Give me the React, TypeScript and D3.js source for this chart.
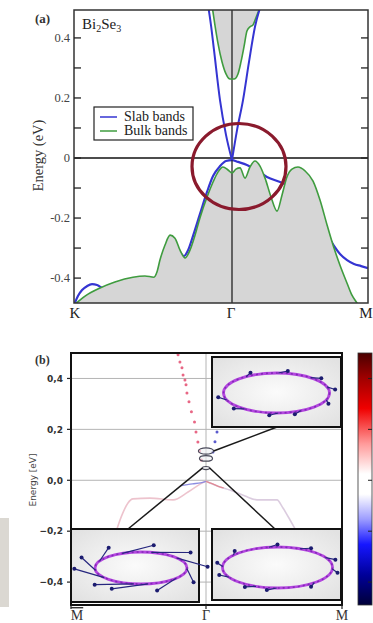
import React from "react";
import * as d3 from "d3";

type Pt = [number, number];

// ---------- (a) Bi2Se3 bands along K (-1) – Γ (0) – M (+1), energy in eV ----------
const bulkValence: Pt[] = [
  [-1.0, -0.49], [-0.93, -0.46], [-0.835, -0.433], [-0.741, -0.413], [-0.627, -0.397],
  [-0.551, -0.393], [-0.494, -0.397], [-0.475, -0.38], [-0.456, -0.34], [-0.424, -0.29],
  [-0.392, -0.257], [-0.361, -0.267], [-0.329, -0.307], [-0.297, -0.333], [-0.266, -0.307],
  [-0.234, -0.257], [-0.203, -0.2], [-0.158, -0.13], [-0.12, -0.08], [-0.089, -0.047],
  [-0.057, -0.03], [-0.025, -0.04], [0, -0.05], [0.029, -0.037], [0.059, -0.033],
  [0.096, -0.067], [0.132, -0.03], [0.169, -0.01], [0.206, -0.027], [0.243, -0.067],
  [0.287, -0.13], [0.331, -0.177], [0.368, -0.123], [0.404, -0.063], [0.441, -0.037],
  [0.485, -0.03], [0.537, -0.043], [0.596, -0.077], [0.647, -0.14], [0.699, -0.223],
  [0.75, -0.3], [0.794, -0.357], [0.846, -0.417], [0.882, -0.457], [0.919, -0.483],
  [0.949, -0.507],
];
const bulkConduction: Pt[] = [
  [-0.127, 0.51], [-0.108, 0.443], [-0.089, 0.383], [-0.063, 0.32], [-0.038, 0.28],
  [-0.013, 0.263], [0.015, 0.263], [0.044, 0.28], [0.066, 0.32], [0.088, 0.37],
  [0.11, 0.423], [0.132, 0.437], [0.154, 0.443], [0.176, 0.467], [0.213, 0.51],
];
const slabConeLeft: Pt[] = [
  [-0.152, 0.51], [-0.133, 0.443], [-0.114, 0.36], [-0.076, 0.193], [-0.038, 0.077], [0, -0.007],
];
const slabConeRight: Pt[] = [
  [0, -0.007], [0.037, 0.093], [0.081, 0.193], [0.125, 0.32], [0.169, 0.437], [0.213, 0.51],
];
const slabValence: Pt[] = [
  [-0.361, -0.283], [-0.329, -0.313], [-0.304, -0.327], [-0.278, -0.307], [-0.247, -0.26],
  [-0.203, -0.187], [-0.158, -0.113], [-0.12, -0.06], [-0.076, -0.027], [-0.038, -0.01],
  [0, -0.007], [0.044, -0.013], [0.11, -0.023], [0.169, -0.037], [0.257, -0.063],
  [0.353, -0.08], [0.441, -0.097], [0.522, -0.123], [0.596, -0.173], [0.647, -0.213],
  [0.699, -0.253], [0.75, -0.293], [0.794, -0.32], [0.846, -0.34], [0.897, -0.353],
  [0.949, -0.36], [1.0, -0.367],
];
const slabNearK: Pt[] = [
  [-1, -0.49], [-0.975, -0.46], [-0.949, -0.44], [-0.918, -0.427], [-0.886, -0.42],
  [-0.854, -0.423], [-0.823, -0.433], [-0.785, -0.447],
];
const pathPoints = [-1, 0, 1];
const pathLabelsA = ["K", "Γ", "M"];
const minorTicksA = [-0.4, -0.3, -0.2, -0.1, 0, 0.1, 0.2, 0.3, 0.4];
const labelTicksA = [0.4, 0.2, 0, -0.2, -0.4];
const labelTextA = ["0.4", "0.2", "0", "-0.2", "-0.4"];
const legendLabels = ["Slab bands", "Bulk bands"];

// ---------- (b) spin-resolved surface spectrum along M̄ – Γ – M ----------
const spinRedBranch: Pt[] = [
  [-0.207, 0.493], [-0.193, 0.465], [-0.178, 0.442], [-0.17, 0.414], [-0.156, 0.394],
  [-0.148, 0.375], [-0.141, 0.343], [-0.126, 0.308], [-0.108, 0.269], [-0.085, 0.229],
  [-0.074, 0.19], [-0.06, 0.15], [-0.048, 0.115], [-0.034, 0.08],
];
const spinBlueBranch: Pt[] = [[0.081, 0.19], [0.066, 0.151], [0.051, 0.111]];
const bulkEdgeLeft: Pt[] = [
  [-0.659, -0.19], [-0.622, -0.136], [-0.578, -0.089], [-0.541, -0.073], [-0.415, -0.07],
  [-0.244, -0.077], [-0.133, -0.046], [-0.044, -0.015], [0, -0.003],
];
const bulkEdgeRight: Pt[] = [
  [0, -0.003], [0.029, -0.011], [0.103, -0.026], [0.176, -0.038], [0.287, -0.062],
  [0.375, -0.077], [0.522, -0.077], [0.566, -0.109], [0.618, -0.156], [0.654, -0.19],
];
const edgeSpinBlue: Pt[] = [[-0.19, -0.022], [-0.1, -0.014], [-0.04, -0.01], [0, -0.004]];
const edgeSpinRed: Pt[] = [[0, -0.004], [0.04, -0.012], [0.09, -0.024], [0.13, -0.03]];
const contourEnergies = [0.115, 0.086, 0.048];
const contourRadii = [0.056, 0.048, 0.027];
const pathLabelsB = ["M", "Γ", "M"];
const ticksB = [0.4, 0.2, 0, -0.2, -0.4];
const labelTextB = ["0,4", "0,2", "0,0", "−0,2", "−0,4"];
// spin arrow tip angles (deg) around the three constant-energy contours
const spinTipsTop = [169, 136, 244, 97, 281, 72, 319, 29, 351];
const spinTipsLowLeft = [178, 207, 241, 281, 318, 357, 38, 76, 116, 134];
const spinTipsLowRight = [192, 161, 226, 122, 100, 270, 303, 57, 340, 13];

const SERIF = "'Liberation Serif', 'Times New Roman', serif";
const SANS = "'DejaVu Sans', Arial, sans-serif";
const BLUE = "#3535d2";
const GREEN = "#3f9c3f";

type Inset = { x: number; y: number; w: number; h: number; cx: number; cy: number; rx: number; ry: number };

function SpinInset({ box, tips, tipScale, spread, id }: { box: Inset; tips: number[]; tipScale: number; spread: number; id: string }) {
  const rad = (a: number) => (a * Math.PI) / 180;
  return (
    <g>
      <rect x={box.x} y={box.y} width={box.w} height={box.h} fill="url(#insetBg)" stroke="#111" strokeWidth={2} />
      <ellipse cx={box.cx} cy={box.cy} rx={box.rx} ry={box.ry} fill="none" stroke="#b347df" strokeWidth={2.8} />
      <ellipse cx={box.cx} cy={box.cy} rx={box.rx} ry={box.ry} fill="none" stroke="#8428b8" strokeWidth={1.6} strokeDasharray="2 3" />
      {tips.map((a, i) => {
        const bx = box.cx + box.rx * Math.cos(rad(a - spread));
        const by = box.cy + box.ry * Math.sin(rad(a - spread));
        const tx = box.cx + box.rx * tipScale * Math.cos(rad(a));
        const ty = box.cy + box.ry * tipScale * Math.sin(rad(a));
        return (
          <g key={id + i}>
            <line x1={bx} y1={by} x2={tx} y2={ty} stroke="#26267e" strokeWidth={1.2} />
            <circle cx={tx} cy={ty} r={2} fill="#1c1c70" />
          </g>
        );
      })}
    </g>
  );
}

export default function App() {
  // panel (a) scales
  const xA = d3.scaleLinear().domain([-1, 0, 1]).range([74, 232, 368]);
  const yA = d3.scaleLinear().domain([-0.483, 0.493]).range([303, 10]);
  const lineA = d3.line<Pt>().x((d) => xA(d[0])).y((d) => yA(d[1])).curve(d3.curveMonotoneX);
  const vbArea = d3.area<Pt>().x((d) => xA(d[0])).y0(yA(-0.483)).y1((d) => yA(d[1])).curve(d3.curveMonotoneX);
  const cbArea = d3.area<Pt>().x((d) => xA(d[0])).y0(yA(0.493)).y1((d) => yA(d[1])).curve(d3.curveMonotoneX);

  // panel (b) scales
  const xB = d3.scaleLinear().domain([-1, 0, 1]).range([71, 206, 342]);
  const yB = d3.scaleLinear().domain([-0.49, 0.5]).range([605, 353]);
  const lineB = d3.line<Pt>().x((d) => xB(d[0])).y((d) => yB(d[1])).curve(d3.curveMonotoneX);

  const contours = contourEnergies.map((e, i) => {
    const rx = xB(contourRadii[i]) - xB(0);
    return { cx: xB(0), cy: yB(e), rx, ry: rx * 0.42 };
  });
  const cTop = contours[0];
  const cLow = contours[2];

  const insetTop: Inset = { x: 212, y: 357, w: 129, h: 70, cx: 276.5, cy: 393, rx: 53, ry: 20 };
  const insetLowLeft: Inset = { x: 71, y: 529, w: 128, h: 73, cx: 141, cy: 568, rx: 46, ry: 16 };
  const insetLowRight: Inset = { x: 212, y: 529, w: 129, h: 71, cx: 277.5, cy: 567.5, rx: 55, ry: 20.5 };

  return (
    <svg width={373} height={623} style={{ position: "absolute", left: 0, top: 0, background: "#fff" }}>
      <defs>
        <clipPath id="clipA">
          <rect x={74} y={10} width={294} height={293} />
        </clipPath>
        <clipPath id="clipB">
          <rect x={71} y={353} width={271} height={252} />
        </clipPath>
        <radialGradient id="insetBg" cx="50%" cy="50%" r="65%">
          <stop offset="0%" stopColor="#fbfbfb" />
          <stop offset="100%" stopColor="#e2e2e2" />
        </radialGradient>
        <linearGradient id="cbar" x1="0" y1="0" x2="0" y2="1">
          <stop offset="0%" stopColor="#4a0000" />
          <stop offset="10%" stopColor="#a00000" />
          <stop offset="22%" stopColor="#f00000" />
          <stop offset="36%" stopColor="#ff9a9a" />
          <stop offset="48%" stopColor="#ffffff" />
          <stop offset="56%" stopColor="#ffffff" />
          <stop offset="66%" stopColor="#9c9cff" />
          <stop offset="76%" stopColor="#1616ff" />
          <stop offset="88%" stopColor="#00009a" />
          <stop offset="100%" stopColor="#000038" />
        </linearGradient>
      </defs>

      {/* ================= panel (a) ================= */}
      <g clipPath="url(#clipA)">
        <path d={lineA(slabNearK) ?? ""} fill="none" stroke={BLUE} strokeWidth={2.2} />
        <path d={lineA(slabValence) ?? ""} fill="none" stroke={BLUE} strokeWidth={2.2} />
        <path d={vbArea(bulkValence) ?? ""} fill="#d6d6d6" />
        <path d={cbArea(bulkConduction) ?? ""} fill="#d6d6d6" />
        <line x1={74} x2={368} y1={yA(0)} y2={yA(0)} stroke="#111" strokeWidth={1.3} />
        <line x1={xA(0)} x2={xA(0)} y1={10} y2={303} stroke="#222" strokeWidth={1.3} />
        <path d={lineA(bulkValence) ?? ""} fill="none" stroke={GREEN} strokeWidth={1.6} />
        <path d={lineA(bulkConduction) ?? ""} fill="none" stroke={GREEN} strokeWidth={1.6} />
        <path d={lineA(slabConeLeft) ?? ""} fill="none" stroke={BLUE} strokeWidth={2} />
        <path d={lineA(slabConeRight) ?? ""} fill="none" stroke={BLUE} strokeWidth={2} />
      </g>
      <rect x={74} y={10} width={294} height={293} fill="none" stroke="#333" strokeWidth={1.5} />
      {minorTicksA.map((t) => (
        <g key={"ta" + t}>
          <line x1={74} x2={81} y1={yA(t)} y2={yA(t)} stroke="#222" strokeWidth={1.3} />
          <line x1={361} x2={368} y1={yA(t)} y2={yA(t)} stroke="#222" strokeWidth={1.3} />
        </g>
      ))}
      {labelTicksA.map((t, i) => (
        <text key={"la" + t} x={70} y={yA(t) + 4} textAnchor="end" fontFamily={SERIF} fontSize={12.5} fill="#444">
          {labelTextA[i]}
        </text>
      ))}
      {pathPoints.map((k, i) => (
        <text
          key={"pa" + k}
          x={i === 2 ? 372.5 : xA(k) + (i === 0 ? 1 : -1)}
          y={318}
          textAnchor={i === 2 ? "end" : "middle"}
          fontFamily={SERIF}
          fontSize={15}
          fill="#222"
        >
          {pathLabelsA[i]}
        </text>
      ))}
      <text transform="translate(43,155.5) rotate(-90)" textAnchor="middle" fontFamily={SERIF} fontSize={14.5} fill="#333">
        Energy (eV)
      </text>
      <text x={35} y={23} fontFamily={SERIF} fontSize={13} fontWeight="bold" fill="#333">(a)</text>
      <text x={82} y={29} fontFamily={SERIF} fontSize={15} fill="#222">
        Bi<tspan fontSize={10} dy={3}>2</tspan>
        <tspan dy={-3}>Se</tspan>
        <tspan fontSize={10} dy={3}>3</tspan>
      </text>
      {/* legend */}
      <rect x={94} y={107} width={99} height={33} fill="#fff" stroke="#222" strokeWidth={1.2} />
      {legendLabels.map((lab, i) => (
        <g key={lab}>
          <line x1={100} x2={117} y1={117 + i * 14} y2={117 + i * 14} stroke={i === 0 ? BLUE : GREEN} strokeWidth={1.5} />
          <text x={124} y={121 + i * 14} fontFamily={SERIF} fontSize={14} fill="#222">{lab}</text>
        </g>
      ))}
      {/* highlight ring around the Dirac point */}
      <ellipse cx={239} cy={166.5} rx={47} ry={43} fill="none" stroke="#8a1a2d" strokeWidth={3.2} />

      {/* ================= panel (b) ================= */}
      <g clipPath="url(#clipB)">
        {ticksB.map((t) => (
          <line key={"gb" + t} x1={71} x2={342} y1={yB(t)} y2={yB(t)} stroke="#b4b4b4" strokeWidth={1} />
        ))}
        <line x1={xB(0)} x2={xB(0)} y1={353} y2={605} stroke="#b4b4b4" strokeWidth={1} />
        <path d={lineB(bulkEdgeLeft) ?? ""} fill="none" stroke="#eab8c4" strokeWidth={1.6} opacity={0.85} />
        <path d={lineB(bulkEdgeRight) ?? ""} fill="none" stroke="#d7c6dc" strokeWidth={1.6} opacity={0.9} />
        <path d={lineB(edgeSpinBlue) ?? ""} fill="none" stroke="#8c8ce0" strokeWidth={1.3} />
        <path d={lineB(edgeSpinRed) ?? ""} fill="none" stroke="#e08a96" strokeWidth={1.3} />
        {spinRedBranch.map((d, i) => (
          <circle key={"r" + i} cx={xB(d[0])} cy={yB(d[1])} r={1.5} fill="#e44c70" opacity={0.85} />
        ))}
        {spinBlueBranch.map((d, i) => (
          <circle key={"b" + i} cx={xB(d[0])} cy={yB(d[1])} r={1.5} fill="#4848c8" opacity={0.9} />
        ))}
        {contours.map((c, i) => (
          <ellipse key={"c" + i} cx={c.cx} cy={c.cy} rx={c.rx} ry={c.ry} fill="#eef0f4" fillOpacity={0.6} stroke="#4a4a5a" strokeWidth={1.2} />
        ))}
        <line x1={cTop.cx + cTop.rx} y1={cTop.cy} x2={277} y2={427} stroke="#1a1a1a" strokeWidth={1.5} />
        <line x1={cLow.cx - cLow.rx} y1={cLow.cy} x2={128} y2={529} stroke="#1a1a1a" strokeWidth={1.5} />
        <line x1={cLow.cx + cLow.rx} y1={cLow.cy} x2={275} y2={529} stroke="#1a1a1a" strokeWidth={1.5} />
      </g>
      <SpinInset box={insetTop} tips={spinTipsTop} tipScale={1.12} spread={9} id="t" />
      <SpinInset box={insetLowLeft} tips={spinTipsLowLeft} tipScale={1.45} spread={35} id="l" />
      <SpinInset box={insetLowRight} tips={spinTipsLowRight} tipScale={1.12} spread={9} id="r" />
      <rect x={71} y={353} width={271} height={252} fill="none" stroke="#111" strokeWidth={2} />
      {ticksB.map((t, i) => (
        <g key={"tb" + t}>
          <line x1={67} x2={71} y1={yB(t)} y2={yB(t)} stroke="#222" strokeWidth={1.2} />
          <text x={63} y={yB(t) + 3.3} textAnchor="end" fontFamily={SANS} fontWeight="bold" fontSize={9} fill="#333">
            {labelTextB[i]}
          </text>
        </g>
      ))}
      {pathPoints.map((k, i) => (
        <g key={"pb" + k}>
          <line x1={xB(k)} x2={xB(k)} y1={605} y2={609} stroke="#222" strokeWidth={1.2} />
          <text x={xB(k) + (i === 0 ? 6 : 0)} y={620} textAnchor="middle" fontFamily={SERIF} fontSize={14} fill="#333" textDecoration={i === 0 ? "overline" : undefined}>
            {pathLabelsB[i]}
          </text>
        </g>
      ))}
      <text transform="translate(36,480) rotate(-90)" textAnchor="middle" fontFamily={SANS} fontSize={9} fill="#444">
        Energy [eV]
      </text>
      <text x={35} y={364} fontFamily={SERIF} fontSize={12} fontWeight="bold" fill="#333">(b)</text>
      {/* colour bar */}
      <rect x={358} y={353} width={14} height={252} fill="url(#cbar)" stroke="#333" strokeWidth={0.8} />
      {ticksB.map((t) => (
        <line key={"cb" + t} x1={368} x2={372} y1={yB(t)} y2={yB(t)} stroke="#222" strokeWidth={1} />
      ))}
      {/* page edge strip */}
      <rect x={0} y={518} width={9} height={89} fill="#dbd8d2" />
    </svg>
  );
}
